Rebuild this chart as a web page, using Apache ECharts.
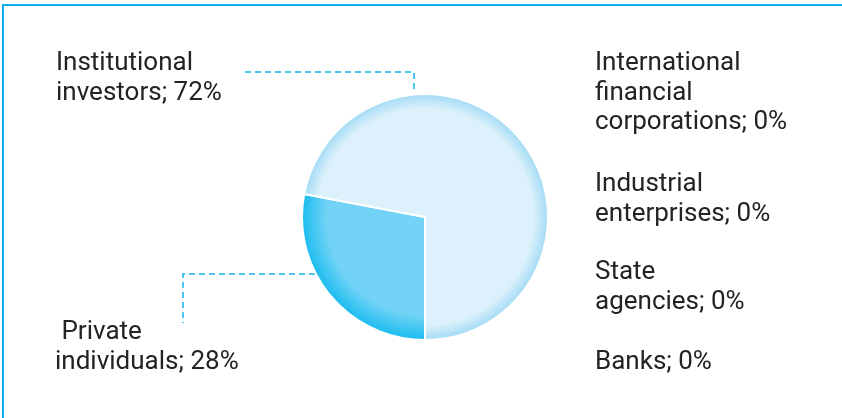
<!DOCTYPE html>
<html>
<head>
<meta charset="utf-8">
<script src="https://cdn.jsdelivr.net/npm/echarts@6/dist/echarts.min.js"></script>
<style>
  html, body { margin: 0; padding: 0; background: #ffffff; }
  #chart { width: 842px; height: 418px; }
</style>
</head>
<body>
<div id="chart"></div>
<script>
// Shareholder structure, % of shares
const categories = [
  ' Private\nindividuals',
  'Institutional\ninvestors',
  'International\nfinancial\ncorporations',
  'Industrial\nenterprises',
  'State\nagencies',
  'Banks'
];
const shares = [28, 72, 0, 0, 0, 0];

const CX = 425, CY = 217, R = 123;
const TEXT = '#242222';
const ACCENT = '#12b4ec';

// Radial shading: flat fill with a darker rim near the outer edge
function rim(inner, edge, from) {
  return {
    type: 'radial', x: CX, y: CY, r: R, global: true,
    colorStops: [
      { offset: 0, color: inner },
      { offset: from, color: inner },
      { offset: 1, color: edge }
    ]
  };
}
const fills = [
  rim('#72d3f6', '#1bbcef', 0.8),
  rim('#dcf1fb', '#a3dbf5', 0.88)
];

// Where each label sits, and the dashed leader for the two visible slices
const labelPlaces = [
  { x: 55, y: 318, line: [[CX - 110, 274], [183, 274], [183, 323]] },
  { x: 56, y: 49, line: [[414, 89], [414, 72], [242, 72]] },
  { x: 595, y: 49 },
  { x: 595, y: 170 },
  { x: 595, y: 258 },
  { x: 595, y: 348 }
];

const chart = echarts.init(document.getElementById('chart'), null, { renderer: 'canvas' });

chart.setOption({
  backgroundColor: '#ffffff',
  animation: false,
  graphic: [
    { type: 'line', shape: { x1: 3, y1: 5, x2: 842, y2: 5 }, style: { stroke: '#0aaee8', lineWidth: 2 } },
    { type: 'line', shape: { x1: 3, y1: 4, x2: 3, y2: 418 }, style: { stroke: '#0aaee8', lineWidth: 2 } }
  ],
  series: [{
    type: 'pie',
    center: [CX, CY],
    radius: [0, R],
    startAngle: -90,
    clockwise: true,
    avoidLabelOverlap: false,
    stillShowZeroSum: true,
    emphasis: { disabled: true },
    itemStyle: { borderColor: '#ffffff', borderWidth: 2 },
    label: {
      show: true,
      position: 'outside',
      color: TEXT,
      fontFamily: 'Roboto',
      fontSize: 26,
      lineHeight: 29.5,
      formatter: p => p.name + '; ' + p.value + '%'
    },
    labelLine: {
      show: true,
      lineStyle: { color: ACCENT, width: 1.5, type: [6, 4] }
    },
    labelLayout: params => {
      const place = labelPlaces[params.dataIndex];
      const out = { x: place.x, y: place.y, align: 'left', verticalAlign: 'top' };
      if (place.line) out.labelLinePoints = place.line;
      return out;
    },
    data: categories.map((name, i) => ({
      name: name,
      value: shares[i],
      itemStyle: i < fills.length ? { color: fills[i] } : undefined,
      labelLine: { show: i < 2 }
    }))
  }]
});
</script>
</body>
</html>
